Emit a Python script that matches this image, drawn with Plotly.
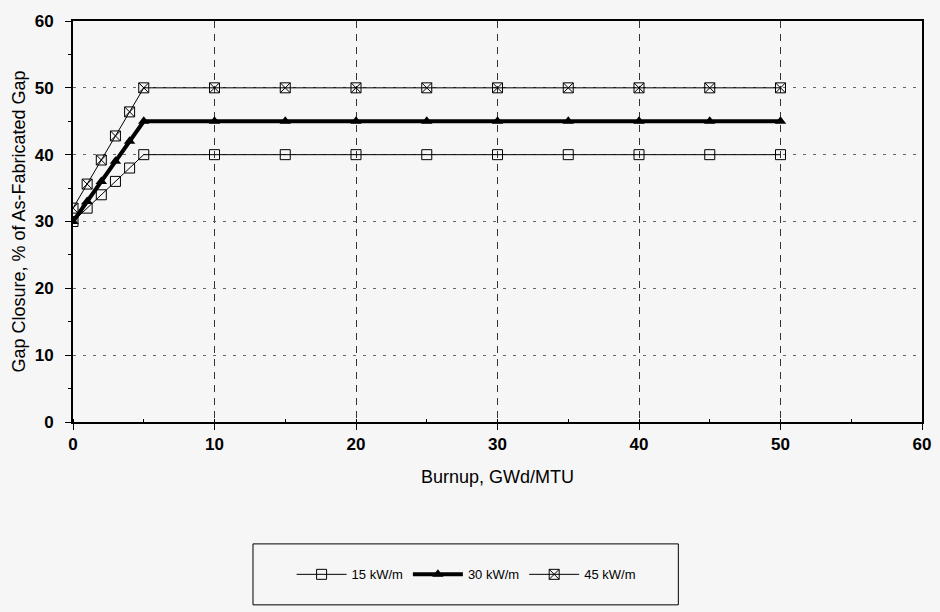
import plotly.graph_objects as go

burnup = [0, 1, 2, 3, 4, 5, 10, 15, 20, 25, 30, 35, 40, 45, 50]
gap_15 = [30, 32, 34, 36, 38, 40, 40, 40, 40, 40, 40, 40, 40, 40, 40]
gap_30 = [30, 33, 36, 39, 42, 45, 45, 45, 45, 45, 45, 45, 45, 45, 45]
gap_45 = [32, 35.6, 39.2, 42.8, 46.4, 50, 50, 50, 50, 50, 50, 50, 50, 50, 50]
series_names = ["15 kW/m", "30 kW/m", "45 kW/m"]
tick_vals = [0, 10, 20, 30, 40, 50, 60]

bg = "#f6f6f6"
fig = go.Figure()
fig.add_trace(go.Scatter(x=burnup, y=gap_15, name=series_names[0], mode="lines+markers",
                         line=dict(color="black", width=1),
                         marker=dict(symbol="square-open", size=10, color="black", line=dict(width=1))))
fig.add_trace(go.Scatter(x=burnup, y=gap_30, name=series_names[1], mode="lines+markers",
                         line=dict(color="black", width=4),
                         marker=dict(symbol="triangle-up", size=10, color="black")))
fig.add_trace(go.Scatter(x=burnup, y=gap_45, name=series_names[2], mode="lines+markers",
                         line=dict(color="black", width=1),
                         marker=dict(symbol="square-x-open", size=10, color="black", line=dict(width=1))))

font = "Liberation Sans, Arial, sans-serif"
tickfont = dict(size=17, family=font, weight="bold")

# legend frame
fig.add_shape(type="rect", xref="paper", yref="paper", x0=0.212, x1=0.713, y0=-0.456, y1=-0.304,
              line=dict(color="black", width=1), fillcolor=bg, layer="below")

fig.update_layout(
    width=940, height=612,
    margin=dict(l=73, r=9, t=21, b=190),
    paper_bgcolor=bg, plot_bgcolor=bg,
    font=dict(family=font, color="black", size=13),
    showlegend=True,
    legend=dict(orientation="h", x=0.463, y=-0.38, xanchor="center", yanchor="middle",
                bgcolor="rgba(0,0,0,0)", borderwidth=0,
                font=dict(size=13, family=font), itemwidth=50, tracegroupgap=0),
    xaxis=dict(range=[0, 60], tickvals=tick_vals, showline=True, linecolor="black", linewidth=2,
               mirror=True, ticks="outside", ticklen=6, tickcolor="black",
               showgrid=True, gridcolor="#333333", gridwidth=1, griddash="7px,6px",
               tickfont=tickfont, zeroline=False,
               title=dict(text="Burnup, GWd/MTU", font=dict(size=18), standoff=17),
               minor=dict(dtick=5, ticks="inside", ticklen=3, tickcolor="black", showgrid=False)),
    yaxis=dict(range=[0, 60], tickvals=tick_vals, showline=True, linecolor="black", linewidth=2,
               mirror=True, ticks="outside", ticklen=6, tickcolor="black", ticklabelstandoff=8,
               showgrid=True, gridcolor="#666666", gridwidth=1, griddash="3px,7px",
               tickfont=tickfont, zeroline=False,
               title=dict(text="Gap Closure, % of As-Fabricated Gap", font=dict(size=18), standoff=4),
               minor=dict(dtick=5, ticks="outside", ticklen=3, tickcolor="black", showgrid=False)),
)
fig.write_html("out.html")
